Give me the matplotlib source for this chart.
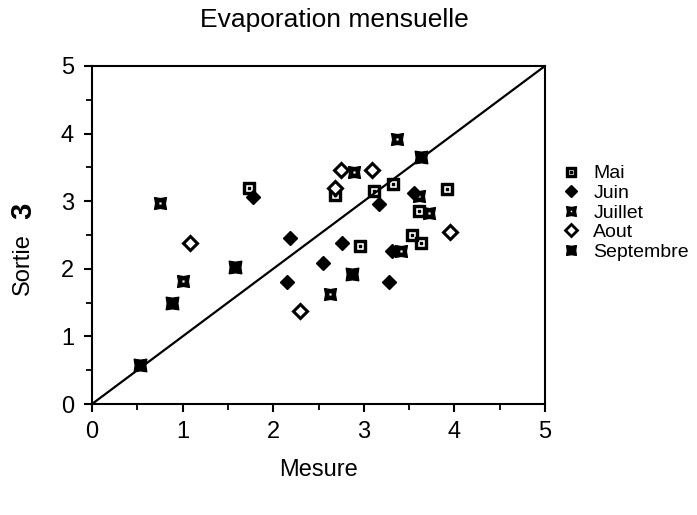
import matplotlib
matplotlib.use('Agg')
import matplotlib.pyplot as plt
from matplotlib.path import Path
from matplotlib.lines import Line2D

plt.rcParams['font.family'] = ['Liberation Sans', 'DejaVu Sans']

# data (mesure, sortie)
mai_x = [1.73, 2.68, 3.11, 3.32, 3.92, 3.61, 3.53, 3.63, 2.96]
mai_y = [3.19, 3.09, 3.15, 3.25, 3.18, 2.86, 2.50, 2.38, 2.33]
juin_x = [1.78, 2.19, 2.15, 3.55, 3.17, 2.76, 3.31, 2.55, 3.28]
juin_y = [3.06, 2.46, 1.80, 3.12, 2.96, 2.38, 2.26, 2.08, 1.81]
juillet_x = [0.75, 1.00, 3.37, 2.89, 3.61, 3.72, 3.41, 2.63]
juillet_y = [2.97, 1.82, 3.92, 3.43, 3.08, 2.83, 2.26, 1.63]
aout_x = [1.08, 2.30, 2.75, 3.09, 2.68, 3.95]
aout_y = [2.38, 1.38, 3.46, 3.46, 3.20, 2.54]
sept_x = [0.53, 0.88, 1.58, 3.63, 2.87]
sept_y = [0.57, 1.49, 2.03, 3.65, 1.92]

labels = ['Mai', 'Juin', 'Juillet', 'Aout', 'Septembre']
ticks = [0, 1, 2, 3, 4, 5]


def square_path(r, reverse=False):
    v = [(-r, -r), (r, -r), (r, r), (-r, r), (-r, -r)]
    if reverse:
        v = v[::-1]
    return v


def concave_path(k, reverse=False):
    v = [(-1, -1), (0, -k), (1, -1), (k, 0), (1, 1), (0, k), (-1, 1), (-k, 0), (-1, -1)]
    if reverse:
        v = v[::-1]
    return v


def build(parts):
    verts, codes = [], []
    for p in parts:
        verts += p
        codes += [Path.MOVETO] + [Path.LINETO] * (len(p) - 2) + [Path.CLOSEPOLY]
    return Path(verts, codes)


# open square with dot (Mai)
m_mai = build([square_path(1.0), square_path(0.6, True), square_path(0.22)])
# concave square with hole (Juillet)
m_juil = build([concave_path(0.82), square_path(0.3, True)])
# filled concave square (Septembre)
m_sept = build([concave_path(0.85)])

fig = plt.figure(figsize=(6.97, 5.15), dpi=100)
ax = fig.add_axes([0.132, 0.2155, 0.65, 0.6565])

ax.plot([0, 5], [0, 5], color='black', lw=1.6, zorder=2)

kw = dict(linestyle='none', color='black', zorder=3)
ax.plot(mai_x, mai_y, marker=m_mai, markersize=8.5, **kw)
ax.plot(juin_x, juin_y, marker='D', markersize=7, **kw)
ax.plot(juillet_x, juillet_y, marker=m_juil, markersize=8.5, **kw)
ax.plot(aout_x, aout_y, marker='D', markersize=7, markerfacecolor='white',
        markeredgewidth=2.2, **kw)
ax.plot(sept_x, sept_y, marker=m_sept, markersize=9, **kw)

ax.set_xlim(0, 5)
ax.set_ylim(0, 5)
ax.set_xticks(ticks)
ax.set_yticks(ticks)
ax.set_xticks([0.5, 1.5, 2.5, 3.5, 4.5], minor=True)
ax.set_yticks([0.5, 1.5, 2.5, 3.5, 4.5], minor=True)
ax.tick_params(which='major', direction='out', length=6, width=1.5,
               labelsize=17)
ax.tick_params(axis='x', which='major', pad=6)
ax.tick_params(axis='y', which='major', pad=7)
ax.tick_params(which='minor', direction='out', length=4, width=1.3)
for s in ax.spines.values():
    s.set_linewidth(1.5)

fig.text(0.48, 0.961, 'Evaporation mensuelle', fontsize=19, ha='center', va='center')
fig.text(0.457, 0.087, 'Mesure', fontsize=17, ha='center', va='center')
fig.text(0.033, 0.487, 'Sortie', rotation=90, fontsize=17, ha='center', va='center')
fig.text(0.033, 0.59, '3', rotation=90, fontsize=21, fontweight='bold',
         ha='center', va='center')

handles = [
    Line2D([], [], marker=m_mai, markersize=7, **kw),
    Line2D([], [], marker='D', markersize=6, **kw),
    Line2D([], [], marker=m_juil, markersize=7, **kw),
    Line2D([], [], marker='D', markersize=6, markerfacecolor='white',
           markeredgewidth=2, **kw),
    Line2D([], [], marker=m_sept, markersize=7, **kw),
]
fig.legend(handles, labels, loc='upper left', bbox_to_anchor=(0.797, 0.695),
           frameon=False, fontsize=14, handlelength=0.8, handletextpad=0.75,
           labelspacing=0.1, borderaxespad=0)

fig.savefig('out.png', dpi=100)
